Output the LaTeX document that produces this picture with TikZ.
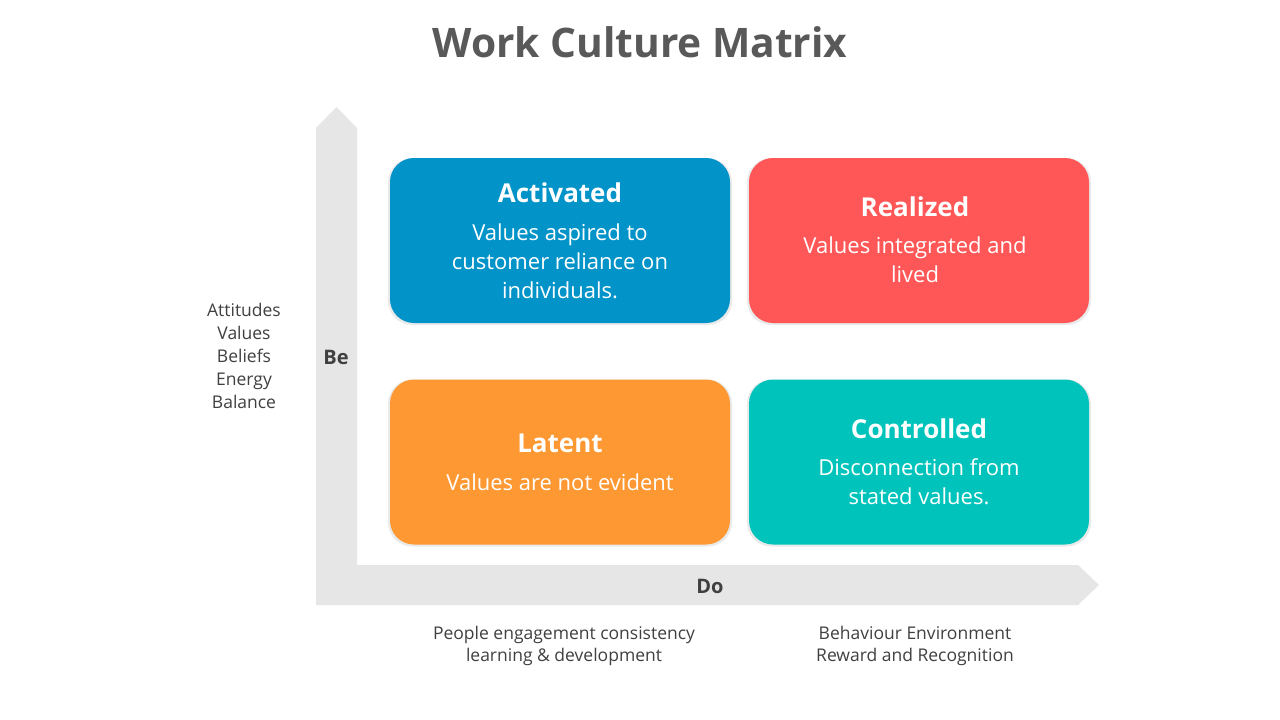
\documentclass[tikz,border=0pt]{standalone}
\usepackage{fontspec}
\setmainfont{Open Sans}
\usetikzlibrary{shadows}
\definecolor{titlegray}{HTML}{595959}
\definecolor{labelgray}{HTML}{404040}
\definecolor{axisgray}{HTML}{E6E6E6}
\definecolor{cblue}{HTML}{0293C8}
\definecolor{cred}{HTML}{FF5757}
\definecolor{corange}{HTML}{FD9832}
\definecolor{cteal}{HTML}{00C4BB}
\tikzset{
  quad/.style={rounded corners=24pt, minimum width=340pt, minimum height=165pt,
    draw=none, drop shadow={opacity=0.16, shadow xshift=0pt, shadow yshift=-1pt, shadow scale=1.012}},
  quadtitle/.style={text=white, font=\bfseries\fontsize{26}{32}\selectfont, inner sep=0pt},
  quadbody/.style={text=white, align=center, font=\fontsize{22}{29}\selectfont, inner sep=0pt},
  sidelabel/.style={text=labelgray, align=center, font=\fontsize{17.5}{22.8}\selectfont, inner sep=0pt},
  axislabel/.style={text=labelgray, font=\bfseries\fontsize{20}{24}\selectfont, inner sep=0pt}
}
\begin{document}
\begin{tikzpicture}[x=1pt,y=-1pt]
\useasboundingbox (0,0) rectangle (1280,720);
\fill[white] (0,0) rectangle (1280,720);
% title
\node[text=titlegray, font=\bfseries\fontsize{40.7}{48}\selectfont] (title) at (640,42) {Work Culture Matrix};
% axes
\fill[axisgray] (316,605) -- (316,128) -- (336.5,107) -- (357,128) -- (357,565)
  -- (1078,565) -- (1099,585) -- (1078,605) -- cycle;
% quadrants
\node[quad, fill=cblue] (act) at (560,240.5) {};
\node[quadtitle] (actT) at (560,193) {Activated};
\node[quadbody] (actB) at (560,261) {Values aspired to\\customer reliance on\\individuals.};
\node[quad, fill=cred] (rea) at (919,240.5) {};
\node[quadtitle] (reaT) at (915,207) {Realized};
\node[quadbody] (reaB) at (915,260) {Values integrated and\\lived};
\node[quad, fill=corange] (lat) at (560,462) {};
\node[quadtitle] (latT) at (560,443) {Latent};
\node[quadbody] (latB) at (560,482) {Values are not evident};
\node[quad, fill=cteal] (con) at (919,462) {};
\node[quadtitle] (conT) at (919,429) {Controlled};
\node[quadbody] (conB) at (919,482) {Disconnection from\\stated values.};
% axis labels
\node[axislabel] (be) at (336,357) {Be};
\node[axislabel] (do) at (710,586) {Do};
\node[sidelabel] (left) at (244,356) {Attitudes\\Values\\Beliefs\\Energy\\Balance};
\node[sidelabel] (botL) at (564,646) {People engagement consistency\\learning \& development};
\node[sidelabel] (botR) at (915,646) {Behaviour Environment\\Reward and Recognition};
\end{tikzpicture}
\end{document}
